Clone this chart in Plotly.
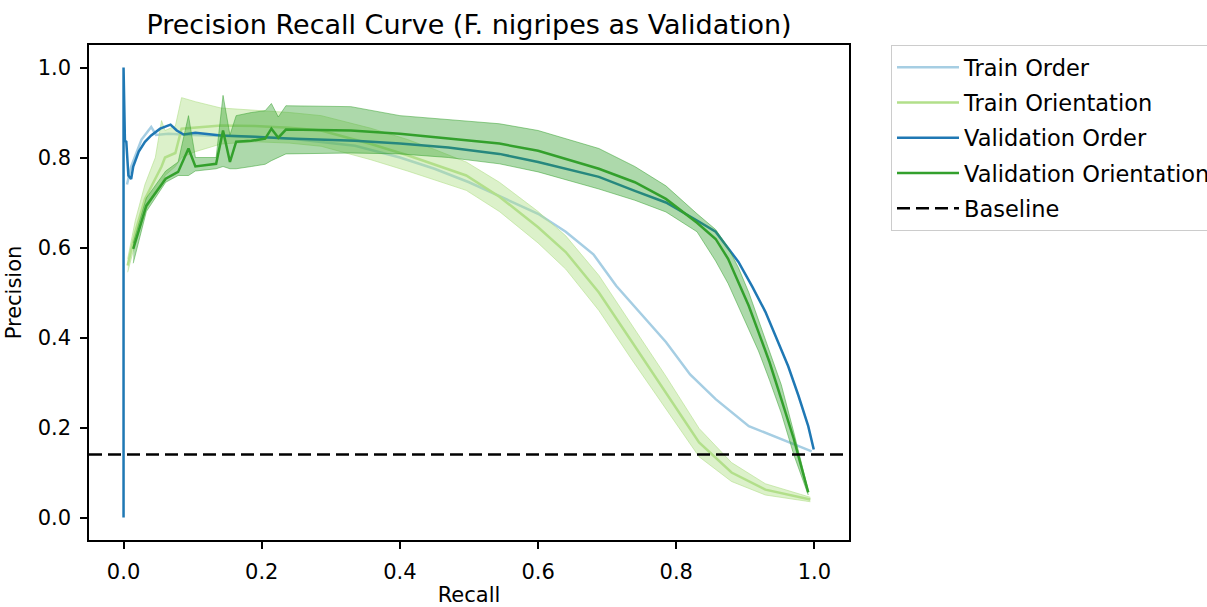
import plotly.graph_objects as go

# ---------------- data ----------------
train_order_recall = [0.005, 0.011, 0.026, 0.040, 0.047, 0.065, 0.10, 0.15, 0.20, 0.24, 0.30, 0.335,
                      0.40, 0.45, 0.50, 0.544, 0.60, 0.64, 0.68, 0.713, 0.75, 0.785, 0.82, 0.857,
                      0.905, 0.952, 0.996]
train_order_precision = [0.74, 0.78, 0.84, 0.868, 0.85, 0.853, 0.85, 0.848, 0.845, 0.842, 0.832, 0.826,
                         0.80, 0.775, 0.745, 0.715, 0.675, 0.635, 0.585, 0.515, 0.452, 0.39, 0.318, 0.263,
                         0.203, 0.174, 0.147]

train_orient_recall = [0.006, 0.017, 0.031, 0.046, 0.055, 0.06, 0.075, 0.084, 0.104, 0.141, 0.19, 0.24,
                       0.286, 0.358, 0.411, 0.45, 0.496, 0.544, 0.60, 0.64, 0.688, 0.736, 0.785, 0.833,
                       0.88, 0.929, 0.994]
train_orient_precision = [0.56, 0.635, 0.708, 0.753, 0.78, 0.80, 0.81, 0.864, 0.866, 0.871, 0.87, 0.866,
                          0.86, 0.83, 0.805, 0.785, 0.76, 0.713, 0.645, 0.59, 0.50, 0.39, 0.278, 0.167,
                          0.10, 0.062, 0.04]
train_orient_upper = [0.575, 0.66, 0.74, 0.80, 0.882, 0.86, 0.87, 0.933, 0.924, 0.91, 0.905, 0.90,
                      0.893, 0.865, 0.84, 0.818, 0.79, 0.745, 0.68, 0.626, 0.538, 0.428, 0.314, 0.198,
                      0.122, 0.075, 0.045]
train_orient_lower = [0.545, 0.61, 0.68, 0.72, 0.74, 0.76, 0.78, 0.80, 0.813, 0.83, 0.835, 0.832,
                      0.825, 0.795, 0.77, 0.75, 0.727, 0.68, 0.61, 0.552, 0.46, 0.35, 0.24, 0.135,
                      0.08, 0.05, 0.035]

val_order_recall = [0.0, 0.0, 0.002, 0.004, 0.007, 0.011, 0.014, 0.022, 0.031, 0.040, 0.053, 0.068,
                    0.077, 0.087, 0.104, 0.141, 0.19, 0.238, 0.335, 0.40, 0.47, 0.544, 0.60, 0.688,
                    0.74, 0.785, 0.83, 0.857, 0.89, 0.91, 0.929, 0.945, 0.962, 0.977, 0.991, 0.999]
val_order_precision = [0.0, 1.0, 0.837, 0.835, 0.76, 0.752, 0.78, 0.813, 0.835, 0.849, 0.864, 0.873,
                       0.86, 0.851, 0.855, 0.849, 0.846, 0.842, 0.837, 0.831, 0.822, 0.808, 0.79, 0.757,
                       0.726, 0.70, 0.66, 0.635, 0.568, 0.513, 0.457, 0.40, 0.336, 0.27, 0.203, 0.151]

val_orient_recall = [0.014, 0.033, 0.061, 0.079, 0.094, 0.104, 0.134, 0.144, 0.154, 0.163, 0.185, 0.205,
                     0.214, 0.224, 0.235, 0.329, 0.40, 0.47, 0.544, 0.60, 0.688, 0.74, 0.785, 0.83,
                     0.857, 0.875, 0.89, 0.905, 0.919, 0.935, 0.952, 0.97, 0.991]
val_orient_precision = [0.597, 0.693, 0.753, 0.768, 0.82, 0.78, 0.786, 0.86, 0.79, 0.835, 0.837, 0.842,
                        0.864, 0.844, 0.862, 0.86, 0.853, 0.843, 0.831, 0.815, 0.775, 0.745, 0.708, 0.655,
                        0.619, 0.575, 0.523, 0.47, 0.412, 0.345, 0.263, 0.175, 0.056]
val_orient_upper = [0.61, 0.71, 0.77, 0.79, 0.893, 0.80, 0.80, 0.938, 0.85, 0.893, 0.90, 0.904,
                    0.92, 0.89, 0.915, 0.913, 0.893, 0.885, 0.875, 0.86, 0.82, 0.78, 0.737, 0.675,
                    0.64, 0.60, 0.555, 0.50, 0.44, 0.37, 0.295, 0.19, 0.06]
val_orient_lower = [0.565, 0.68, 0.745, 0.76, 0.76, 0.77, 0.775, 0.78, 0.775, 0.775, 0.78, 0.785,
                    0.793, 0.80, 0.808, 0.81, 0.808, 0.80, 0.786, 0.768, 0.73, 0.705, 0.679, 0.635,
                    0.57, 0.52, 0.47, 0.42, 0.37, 0.305, 0.232, 0.14, 0.05]

baseline_value = 0.14
x_limits = [-0.05, 1.05]
y_limits = [-0.05, 1.05]
tick_values = [0.0, 0.2, 0.4, 0.6, 0.8, 1.0]

FONT = "DejaVu Sans"
C_TRAIN_ORDER = "#a6cee3"
C_TRAIN_ORIENT = "#b2df8a"
C_VAL_ORDER = "#1f78b4"
C_VAL_ORIENT = "#33a02c"

fig = go.Figure()


def band(recall, lower, upper, fill, edge, group):
    fig.add_trace(go.Scatter(x=recall, y=lower, mode="lines", line=dict(color=edge, width=1),
                             showlegend=False, legendgroup=group, hoverinfo="skip"))
    fig.add_trace(go.Scatter(x=recall, y=upper, mode="lines", line=dict(color=edge, width=1),
                             fill="tonexty", fillcolor=fill, showlegend=False,
                             legendgroup=group, hoverinfo="skip"))


fig.add_trace(go.Scatter(x=train_order_recall, y=train_order_precision, mode="lines",
                         name="Train Order", legendgroup="a",
                         line=dict(color=C_TRAIN_ORDER, width=2.5)))

band(train_orient_recall, train_orient_lower, train_orient_upper,
     "rgba(178,223,138,0.45)", "rgba(178,223,138,0.6)", "b")
fig.add_trace(go.Scatter(x=train_orient_recall, y=train_orient_precision, mode="lines",
                         name="Train Orientation", legendgroup="b",
                         line=dict(color=C_TRAIN_ORIENT, width=2.5)))

fig.add_trace(go.Scatter(x=val_order_recall, y=val_order_precision, mode="lines",
                         name="Validation Order", legendgroup="c",
                         line=dict(color=C_VAL_ORDER, width=2.5)))

band(val_orient_recall, val_orient_lower, val_orient_upper,
     "rgba(51,160,44,0.40)", "rgba(51,160,44,0.5)", "d")
fig.add_trace(go.Scatter(x=val_orient_recall, y=val_orient_precision, mode="lines",
                         name="Validation Orientation", legendgroup="d",
                         line=dict(color=C_VAL_ORIENT, width=2.5)))

fig.add_trace(go.Scatter(x=x_limits, y=[baseline_value, baseline_value], mode="lines",
                         name="Baseline", legendgroup="e",
                         line=dict(color="black", width=2.5, dash="13px,6px")))

axis_common = dict(
    showgrid=False, zeroline=False, showline=True, linecolor="black", linewidth=1.5,
    mirror=True, ticks="outside", ticklen=7, tickwidth=1.5, tickcolor="black",
    tickvals=tick_values, tickformat=".1f", automargin=False, ticklabelstandoff=5,
    tickfont=dict(family=FONT, size=21, color="black"),
)

fig.update_layout(
    width=1207, height=607,
    margin=dict(l=89, r=358, t=45, b=67, autoexpand=False),
    paper_bgcolor="white", plot_bgcolor="white",
    title=dict(text="Precision Recall Curve (F. nigripes as Validation)",
               font=dict(family=FONT, size=27, color="black"),
               x=0.5, xref="paper", xanchor="center",
               y=1 - 25 / 607, yref="container", yanchor="middle"),
    xaxis=dict(range=x_limits, title=dict(text="Recall", standoff=7,
                                          font=dict(family=FONT, size=21, color="black")),
               **axis_common),
    yaxis=dict(range=y_limits, title=dict(text="Precision", standoff=10,
                                          font=dict(family=FONT, size=21, color="black")),
               **axis_common),
    legend=dict(x=891 / 1207, y=1 - 45 / 607, xref="container", yref="container",
                xanchor="left", yanchor="top",
                bordercolor="#cccccc", borderwidth=1, bgcolor="white",
                font=dict(family=FONT, size=22.5, color="black"),
                itemwidth=62,
                traceorder="grouped", tracegroupgap=3),
    showlegend=True,
)

fig.write_html("out.html")
